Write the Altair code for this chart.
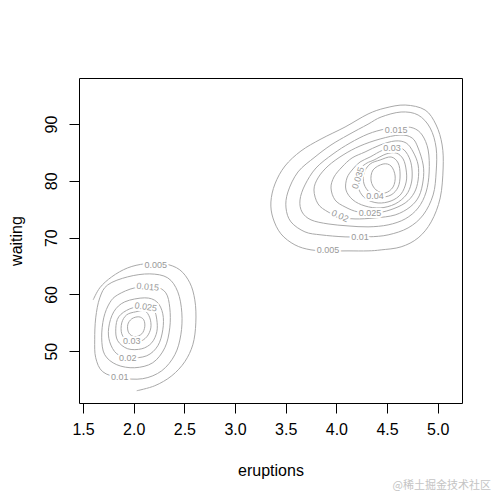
import altair as alt
import pandas as pd

# ---- contour lines (eruptions, waiting) ----
# right (long eruptions) cluster, closed rings
r005_x = [4.313, 4.086, 3.849, 3.651, 3.493, 3.394, 3.354, 3.374, 3.453, 3.591, 3.750, 3.937, 4.115, 4.313, 4.442, 4.639, 4.807, 4.936, 5.025, 5.054, 5.044, 4.985, 4.876, 4.679, 4.481]
r005_y = [91.78, 89.49, 87.38, 85.27, 82.62, 79.46, 76.29, 73.48, 70.67, 68.73, 67.85, 67.67, 67.67, 67.67, 67.85, 68.38, 69.96, 72.78, 77.0, 82.27, 86.32, 89.84, 92.48, 93.36, 92.83]
r010_x = [4.313, 4.442, 4.639, 4.807, 4.926, 4.985, 4.985, 4.955, 4.857, 4.708, 4.511, 4.313, 4.086, 3.849, 3.690, 3.552, 3.503, 3.522, 3.621, 3.789, 3.947, 4.115]
r010_y = [89.99, 91.25, 92.13, 91.60, 89.31, 85.79, 81.57, 77.52, 74.0, 71.72, 70.49, 70.14, 70.14, 70.49, 71.02, 72.78, 75.23, 78.05, 81.57, 84.21, 86.32, 88.08]
r015_x = [4.313, 4.481, 4.629, 4.758, 4.847, 4.906, 4.916, 4.886, 4.807, 4.679, 4.511, 4.313, 4.115, 3.918, 3.750, 3.661, 3.641, 3.690, 3.799, 3.967, 4.135]
r015_y = [88.26, 89.14, 89.49, 89.31, 88.08, 85.44, 81.57, 78.05, 75.23, 73.30, 72.25, 71.90, 72.07, 72.42, 73.13, 74.53, 76.64, 79.28, 82.27, 84.74, 86.67]
r020_x = [4.234, 4.432, 4.629, 4.748, 4.807, 4.857, 4.857, 4.817, 4.728, 4.580, 4.382, 4.184, 4.036, 3.918, 3.819, 3.779, 3.819, 3.918, 4.066]
r020_y = [86.15, 87.38, 88.08, 87.55, 85.79, 82.80, 80.16, 77.35, 75.41, 74.0, 73.48, 73.30, 73.65, 74.53, 75.94, 78.40, 80.52, 82.62, 84.56]
r025_x = [4.283, 4.432, 4.580, 4.689, 4.758, 4.807, 4.807, 4.768, 4.679, 4.530, 4.382, 4.214, 4.086, 3.987, 3.947, 3.977, 4.056, 4.155]
r025_y = [85.09, 86.32, 87.03, 86.67, 85.09, 82.80, 80.16, 77.88, 76.11, 74.88, 74.35, 74.53, 75.41, 76.64, 78.75, 80.69, 82.45, 84.04]
r030_x = [4.333, 4.461, 4.580, 4.669, 4.728, 4.748, 4.738, 4.689, 4.580, 4.432, 4.283, 4.164, 4.095, 4.105, 4.164, 4.234]
r030_y = [84.21, 85.44, 85.97, 85.44, 83.68, 81.57, 79.46, 77.52, 75.94, 75.23, 75.58, 76.64, 78.40, 80.52, 82.10, 83.33]
r035_x = [4.372, 4.491, 4.590, 4.659, 4.689, 4.689, 4.639, 4.540, 4.412, 4.293, 4.224, 4.204, 4.244, 4.303]
r035_y = [83.68, 84.74, 84.91, 83.86, 81.92, 79.81, 77.70, 76.47, 76.11, 76.82, 78.40, 80.52, 82.27, 83.15]
r040_x = [4.432, 4.540, 4.610, 4.629, 4.610, 4.540, 4.432, 4.333, 4.273, 4.273, 4.333]
r040_y = [83.68, 84.21, 83.15, 81.04, 78.93, 77.52, 77.17, 77.88, 79.46, 81.39, 82.97]
r045_x = [4.461, 4.540, 4.580, 4.560, 4.481, 4.392, 4.343, 4.362]
r045_y = [82.97, 82.62, 80.86, 78.93, 77.88, 78.40, 79.98, 81.92]

# left (short eruptions) cluster, closed rings
l010_x = [1.744, 1.941, 2.159, 2.336, 2.435, 2.475, 2.465, 2.406, 2.277, 2.089, 1.862, 1.694, 1.625, 1.615, 1.625, 1.665]
l010_y = [61.69, 63.10, 63.62, 62.92, 60.46, 56.76, 52.89, 49.38, 46.56, 45.16, 45.33, 46.39, 48.85, 52.01, 55.88, 59.40]
l015_x = [1.842, 2.010, 2.208, 2.317, 2.356, 2.356, 2.307, 2.188, 2.010, 1.833, 1.714, 1.684, 1.704, 1.763]
l015_y = [59.93, 61.16, 61.34, 60.28, 57.64, 54.12, 50.61, 47.97, 47.09, 47.62, 49.38, 52.36, 55.88, 58.52]
l020_x = [1.912, 2.109, 2.228, 2.287, 2.287, 2.238, 2.129, 1.961, 1.833, 1.763, 1.753, 1.803]
l020_y = [58.70, 59.40, 58.70, 56.59, 53.77, 50.96, 49.20, 48.85, 49.55, 51.66, 54.12, 56.94]
l025_x = [1.961, 2.109, 2.198, 2.228, 2.228, 2.178, 2.080, 1.941, 1.842, 1.823, 1.852]
l025_y = [57.46, 57.99, 57.29, 55.53, 53.42, 51.49, 50.43, 50.43, 51.84, 53.95, 56.06]
l030_x = [2.020, 2.109, 2.159, 2.169, 2.129, 2.050, 1.941, 1.882, 1.882, 1.931]
l030_y = [56.94, 57.11, 55.88, 54.12, 52.54, 51.66, 51.84, 53.07, 55.0, 56.41]
l035_x = [2.050, 2.099, 2.109, 2.080, 2.010, 1.951, 1.941, 1.981]
l035_y = [56.06, 55.53, 54.30, 53.07, 52.54, 53.24, 54.65, 55.71]

# left cluster, outer line cut by the edge of the density grid
l005_x = [1.60, 1.665, 1.783, 1.941, 2.109, 2.307, 2.455, 2.554, 2.603, 2.613, 2.583, 2.504, 2.376, 2.208, 2.030]
l005_y = [59.05, 61.16, 63.10, 64.68, 65.39, 65.39, 64.33, 62.04, 59.05, 55.0, 51.13, 48.15, 45.68, 43.92, 43.04]

# contour labels
lab_text = ["0.005", "0.01", "0.015", "0.02", "0.025", "0.03", "0.035", "0.04",
            "0.005", "0.015", "0.025", "0.03", "0.02", "0.01"]
lab_x = [3.918, 4.234, 4.590, 4.036, 4.333, 4.550, 4.214, 4.382,
         2.218, 2.139, 2.119, 1.981, 1.941, 1.862]
lab_y = [67.85, 70.14, 88.96, 73.83, 74.35, 85.79, 80.52, 77.35,
         65.21, 61.34, 57.82, 51.84, 48.85, 45.51]
lab_angle = [0, 0, 0, 25, 0, 0, 288, 0,
             0, 5, 8, 0, 0, 0]

x_ticks = [1.5, 2.0, 2.5, 3.0, 3.5, 4.0, 4.5, 5.0]
y_ticks = [50, 60, 70, 80, 90]

closed_rings = [
    ("R005", r005_x, r005_y), ("R010", r010_x, r010_y), ("R015", r015_x, r015_y),
    ("R020", r020_x, r020_y), ("R025", r025_x, r025_y), ("R030", r030_x, r030_y),
    ("R035", r035_x, r035_y), ("R040", r040_x, r040_y), ("R045", r045_x, r045_y),
    ("L010", l010_x, l010_y), ("L015", l015_x, l015_y), ("L020", l020_x, l020_y),
    ("L025", l025_x, l025_y), ("L030", l030_x, l030_y), ("L035", l035_x, l035_y),
]
open_lines = [("L005", l005_x, l005_y)]


def to_frame(items):
    rows = []
    for name, xs, ys in items:
        for i, (a, b) in enumerate(zip(xs, ys)):
            rows.append({"ring": name, "idx": i, "eruptions": a, "waiting": b})
    return pd.DataFrame(rows)


closed_df = to_frame(closed_rings)
open_df = to_frame(open_lines)
labels_df = pd.DataFrame({"text": lab_text, "eruptions": lab_x,
                          "waiting": lab_y, "angle": lab_angle})

xscale = alt.Scale(domain=[1.46, 5.24], nice=False, zero=False)
yscale = alt.Scale(domain=[40.88, 98.12], nice=False, zero=False)

x_enc = alt.X("eruptions:Q", scale=xscale, title="eruptions",
              axis=alt.Axis(values=x_ticks, format=".1f", labelPadding=8,
                            titlePadding=25, labelFlush=False, labelOverlap=False))
y_enc = alt.Y("waiting:Q", scale=yscale, title="waiting",
              axis=alt.Axis(values=y_ticks, format="d", labelAngle=270,
                            labelAlign="center", labelBaseline="bottom",
                            labelPadding=10, titlePadding=19,
                            labelFlush=False, labelOverlap=False))

line_col = "#a9a9a9"

closed_layer = alt.Chart(closed_df).mark_line(
    interpolate="cardinal-closed", color=line_col, strokeWidth=1
).encode(x=x_enc, y=y_enc, detail="ring:N", order="idx:Q")

open_layer = alt.Chart(open_df).mark_line(
    interpolate="catmull-rom", color=line_col, strokeWidth=1
).encode(x=x_enc, y=y_enc, detail="ring:N", order="idx:Q")

halo = alt.Chart(labels_df).mark_text(
    font="Liberation Sans", fontSize=9, color="white", stroke="white", strokeWidth=4
).encode(x=x_enc, y=y_enc, text="text:N", angle=alt.Angle("angle:Q", scale=None))

labels = alt.Chart(labels_df).mark_text(
    font="Liberation Sans", fontSize=9, color="#999999"
).encode(x=x_enc, y=y_enc, text="text:N", angle=alt.Angle("angle:Q", scale=None))

chart = alt.layer(closed_layer, open_layer, halo, labels).properties(
    width=383, height=325,
    autosize=alt.AutoSizeParams(type="none"),
    padding={"left": 71, "top": 70, "right": 32, "bottom": 91},
    title=alt.TitleParams(text="@稀土掘金技术社区", orient="bottom", anchor="end",
                          fontSize=11, color="#c4c4c4", font="Noto Sans CJK SC",
                          fontWeight="normal", offset=2, dx=29),
).configure_view(stroke="black", strokeWidth=1).configure_axis(
    grid=False, domain=False, tickColor="black", tickSize=10, tickWidth=1,
    labelColor="black", titleColor="black", labelFont="Liberation Sans",
    titleFont="Liberation Sans", labelFontSize=16, titleFontSize=16,
    titleFontWeight="normal"
)

chart.save("out.html", embed_options={"renderer": "svg", "actions": False})
